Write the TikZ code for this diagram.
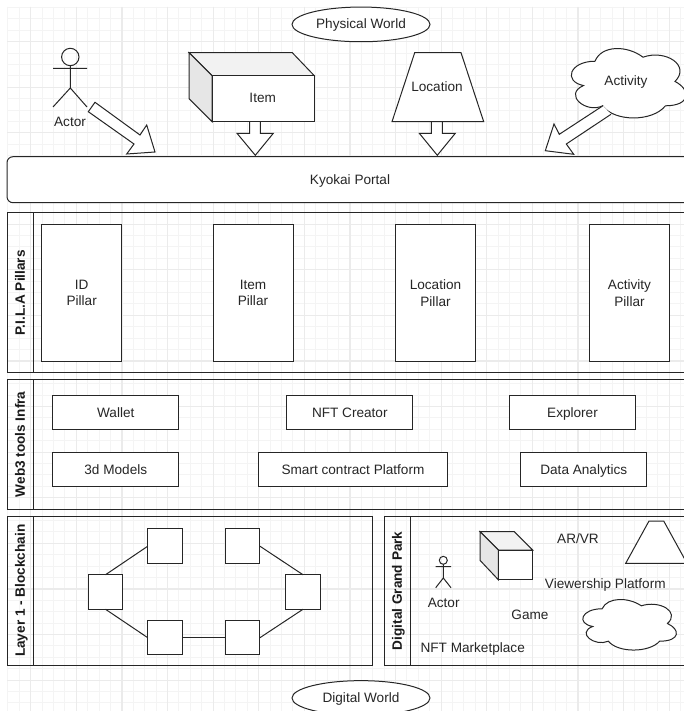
\documentclass[tikz,border=0pt]{standalone}
\usepackage{fontspec}
\setmainfont{Liberation Sans}
\usetikzlibrary{shapes.geometric}
\definecolor{ink}{HTML}{262626}
\definecolor{gridminor}{HTML}{F4F4F4}
\definecolor{gridmajor}{HTML}{EBEBEB}
\definecolor{facetop}{HTML}{F2F2F2}
\definecolor{faceside}{HTML}{E6E6E6}
\tikzset{
  line/.style={draw=ink,line width=1pt,line join=miter},
  oneline/.style={text height=10.7pt,text depth=1.9pt},
  label/.style={inner sep=0pt,oneline,font=\fontsize{13.6}{16.7}\selectfont,text=black!85},
  boxbase/.style={line,fill=white,inner sep=0pt,outer sep=0pt,font=\fontsize{13.6}{16.7}\selectfont,text=black!85,align=center},
  boxnode/.style={boxbase,oneline},
  blockarrow/.style={line,fill=white},
  header/.style={inner sep=0pt,rotate=90,oneline,font=\fontsize{13.6}{16}\selectfont\bfseries,text=black!90},
  panel/.style={line,fill=none},
  ovalnode/.style={boxnode,ellipse}
}
\newcommand{\cloudshape}[4]{%
  \begin{scope}[shift={(#1,#2)},x=#3pt,y=-#4pt]
    \draw[line,fill=white] (.25,.25) .. controls (.05,.25) and (0,.5) .. (.16,.55)
      .. controls (0,.66) and (.18,.9) .. (.31,.8)
      .. controls (.4,1) and (.7,1) .. (.8,.8)
      .. controls (1,.8) and (1,.6) .. (.875,.5)
      .. controls (1,.3) and (.8,.1) .. (.625,.2)
      .. controls (.5,.05) and (.3,.05) .. (.25,.25) -- cycle;
  \end{scope}}
\begin{document}
\begin{tikzpicture}[x=1pt,y=-1pt]
\useasboundingbox (0,0) rectangle (684,711);
\clip (0,0) rectangle (684,711);
\fill[white] (0,0) rectangle (684,711);
% grid
\foreach \k in {0,...,59} {
  \draw[gridminor,line width=1pt] ({7.9+11.4*\k},7) -- ({7.9+11.4*\k},711);
}
\foreach \k in {0,...,61} {
  \draw[gridminor,line width=1pt] (7,{7.5+11.4*\k}) -- (684,{7.5+11.4*\k});
}
\foreach \k in {0,...,14} {
  \draw[gridmajor,line width=1.2pt] ({30.7+45.6*\k},7) -- ({30.7+45.6*\k},711);
  \draw[gridmajor,line width=1.2pt] (7,{41.7+45.6*\k}) -- (684,{41.7+45.6*\k});
}
% worlds
\node[ovalnode,minimum width=138pt,minimum height=34.7pt] (physical) at (361,24.4) {Physical World};
\node[ovalnode,minimum width=138pt,minimum height=34.7pt] (digital) at (361,698) {Digital World};
% actor
\draw[line] (70.3,57) circle (8.7pt);
\draw[line] (70.3,65.7) -- (70.3,88) (53,68.3) -- (87,68.3) (53,107) -- (70.3,88) -- (87,107);
\node[label] (actorlabel) at (70,122) {Actor};
% portal
\node[boxnode,rounded corners=6pt,minimum width=686pt,minimum height=46pt] (portal) at (350,179.7) {Kyokai Portal};
% block arrows
\draw[blockarrow] (95,102.3) -- (140,135) -- (146.7,125) -- (155,152) -- (126.7,154) -- (134,144) -- (88.3,111.7) -- cycle;
\draw[blockarrow] (249.7,121.7) -- (249.7,133.3) -- (237,133.3) -- (255.3,155.3) -- (273.3,133.3) -- (260.3,133.3) -- (260.3,121.7);
\draw[blockarrow] (431.3,121.7) -- (431.3,133.3) -- (419.3,133.3) -- (437.3,155.3) -- (455.3,133.3) -- (442.3,133.3) -- (442.3,121.7);
% item cube
\draw[line,fill=facetop] (189,52.7) -- (292.3,52.7) -- (314.3,75.7) -- (212,75.7) -- cycle;
\draw[line,fill=faceside] (189,52.7) -- (212,75.7) -- (212,121.7) -- (189,98.7) -- cycle;
\draw[line,fill=white] (212,75.7) rectangle (314.3,121.7);
\node[label] (itemlabel) at (262.7,98) {Item};
% location
\draw[line,fill=white] (414.7,52.7) -- (461,52.7) -- (483.7,121.7) -- (392,121.7) -- cycle;
\node[label] (locationlabel) at (437,87) {Location};
% activity
\cloudshape{563}{41}{128}{81}
\node[label] (activitylabel) at (626,81) {Activity};
\draw[blockarrow] (603,105.7) -- (559.3,134.3) -- (554,124) -- (545.3,150.7) -- (573.7,154.3) -- (566.3,144) -- (611,114.3);
% PILA
\draw[panel] (7.3,213) rectangle (690,372.7);
\draw[panel] (33.7,213) -- (33.7,372.7);
\node[header] (pilahead) at (20.5,292.8) {P.I.L.A Pillars};
\node[boxbase,minimum width=80pt,minimum height=137pt] (idpillar) at (81.7,292.8) {ID\\Pillar};
\node[boxbase,minimum width=80pt,minimum height=137pt] (itempillar) at (253,292.8) {Item\\Pillar};
\node[boxbase,minimum width=80.4pt,minimum height=137pt] (locpillar) at (435.5,292.8) {Location\\Pillar};
\node[boxbase,minimum width=80.4pt,minimum height=137pt] (actpillar) at (629.5,292.8) {Activity\\Pillar};
% Web3
\draw[panel] (7.3,379.3) rectangle (690,509.3);
\draw[panel] (33.7,379.3) -- (33.7,509.3);
\node[header] (webhead) at (20.5,444.3) {Web3 tools Infra};
\node[boxnode,minimum width=125.7pt,minimum height=34.3pt] (wallet) at (115.8,412.8) {Wallet};
\node[boxnode,minimum width=125.7pt,minimum height=34.3pt] (nftcreator) at (349.8,412.8) {NFT Creator};
\node[boxnode,minimum width=126.4pt,minimum height=34.3pt] (explorer) at (572.5,412.8) {Explorer};
\node[boxnode,minimum width=125.7pt,minimum height=34.3pt] (models) at (115.8,469.8) {3d Models};
\node[boxnode,minimum width=188.6pt,minimum height=34.3pt] (smart) at (353,469.8) {Smart contract Platform};
\node[boxnode,minimum width=125.7pt,minimum height=34.3pt] (analytics) at (583.8,469.8) {Data Analytics};
% Layer 1
\draw[panel] (7.3,516.7) rectangle (372.7,665);
\draw[panel] (33.7,516.7) -- (33.7,665);
\node[header] (layerhead) at (20.5,590.8) {Layer 1 - Blockchain};
\tikzset{square/.style={boxnode,minimum width=34.5pt,minimum height=34.5pt}}
\node[square] (a) at (165,546.2) {};
\node[square] (b) at (242.7,546.2) {};
\node[square] (c) at (105.5,592) {};
\node[square] (d) at (303,592) {};
\node[square] (e) at (165,637.7) {};
\node[square] (f) at (242.7,637.7) {};
\draw[line] (a.west) -- (c.north);
\draw[line] (c.south) -- (e.west);
\draw[line] (e.east) -- (f.west);
\draw[line] (f.east) -- (d.south);
\draw[line] (d.north) -- (b.east);
% Digital Grand Park
\draw[panel] (384.3,516.7) rectangle (690,665);
\draw[panel] (410.3,516.7) -- (410.3,665);
\node[header] (parkhead) at (397.5,590.8) {Digital Grand Park};
\draw[line] (443.3,560.3) circle (4pt);
\draw[line] (443.3,564.3) -- (443.3,578) (435.7,566.7) -- (451,566.7) (435.7,587.7) -- (443.3,578) -- (451,587.7);
\node[label] (actor2) at (443.7,603) {Actor};
\draw[line,fill=facetop] (480,531.7) -- (514.3,531.7) -- (532.7,550) -- (498.3,550) -- cycle;
\draw[line,fill=faceside] (480,531.7) -- (498.3,550) -- (498.3,579.7) -- (480,560.3) -- cycle;
\draw[line,fill=white] (498.3,550) rectangle (532.7,579.7);
\node[label] (arvr) at (578,538.7) {AR/VR};
\draw[line,fill=white] (649,521) -- (663.7,521) -- (687,563.3) -- (625.7,563.3) -- cycle;
\node[label] (viewership) at (605.3,584.3) {Viewership Platform};
\node[label] (game) at (530,615.3) {Game};
\node[label] (market) at (472.7,648.3) {NFT Marketplace};
\cloudshape{576}{594}{104.5}{59}
\end{tikzpicture}
\end{document}
